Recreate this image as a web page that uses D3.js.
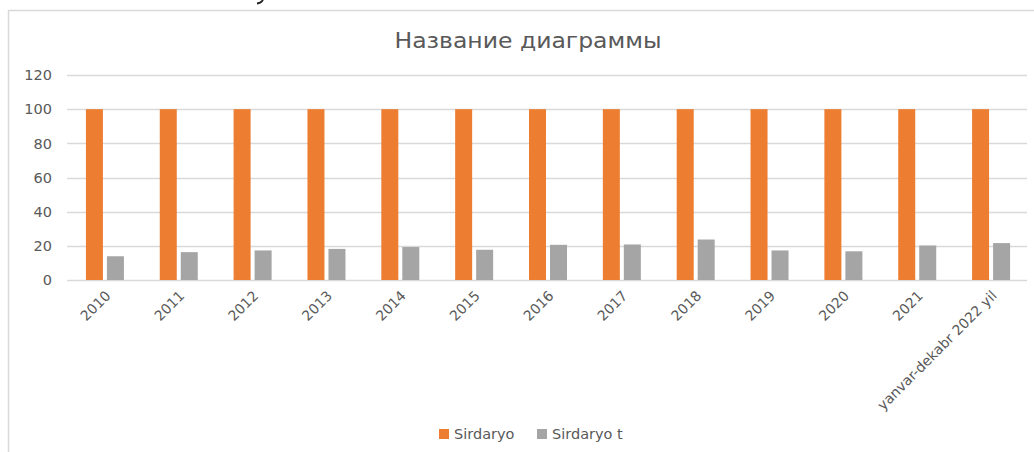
<!DOCTYPE html>
<html>
<head>
<meta charset="utf-8">
<script src="https://cdn.jsdelivr.net/npm/d3@7"></script>
<style>
  body { margin: 0; background: #fff; }
  svg { display: block; font-family: "DejaVu Sans", "Open Sans", sans-serif; }
</style>
</head>
<body>
<svg id="chart" width="1034" height="452"></svg>
<script>
// Data
const categories = ["2010", "2011", "2012", "2013", "2014", "2015", "2016", "2017", "2018", "2019", "2020", "2021", "yanvar-dekabr 2022 yil"];
const sirdaryo  = [100, 100, 100, 100, 100, 100, 100, 100, 100, 100, 100, 100, 100];
const sirdaryoT = [13.9, 16.3, 17.3, 18.2, 19.3, 17.7, 20.6, 20.8, 23.7, 17.3, 16.8, 20.2, 21.6];
const yTicks = [0, 20, 40, 60, 80, 100, 120];
const seriesNames = ["Sirdaryo", "Sirdaryo t"];
const colors = ["#ED7D31", "#A5A5A5"];

const svg = d3.select("#chart");
const textColor = "#595959";
const gridColor = "#D9D9D9";

// frame of the chart area (left and top edges only visible)
svg.append("path")
  .attr("d", "M8.5,452V10.5H1034")
  .attr("fill", "none")
  .attr("stroke", gridColor)
  .attr("stroke-width", 1.5);

// tail of a glyph cut off above the picture
svg.append("path")
  .attr("d", "M257,3.5Q261,3 263,0")
  .attr("fill", "none")
  .attr("stroke", "#222")
  .attr("stroke-width", 1.8);

const plotL = 67, plotR = 1027, plotT = 75, plotB = 280;

const x = d3.scaleBand().domain(categories).range([plotL, plotR]).padding(0);
const y = d3.scaleLinear().domain([0, 120]).range([plotB, plotT]);

// gridlines
svg.append("g")
  .selectAll("line")
  .data(yTicks)
  .join("line")
  .attr("x1", plotL).attr("x2", plotR)
  .attr("y1", d => Math.round(y(d)) + 0.5)
  .attr("y2", d => Math.round(y(d)) + 0.5)
  .attr("stroke", gridColor)
  .attr("stroke-width", 1.3);

// y tick labels
svg.append("g")
  .selectAll("text")
  .data(yTicks)
  .join("text")
  .attr("x", 52)
  .attr("y", d => y(d))
  .attr("dy", "0.36em")
  .attr("text-anchor", "end")
  .attr("font-size", 14.5)
  .attr("fill", textColor)
  .text(d => d);

// bars
const barW = 17, barGap = 4;
const xs = d3.scaleOrdinal().domain([0, 1]).range([-barW - barGap / 2, barGap / 2]);
const series = [sirdaryo, sirdaryoT];

series.forEach((vals, si) => {
  svg.append("g")
    .selectAll("rect")
    .data(vals)
    .join("rect")
    .attr("x", (d, i) => x(categories[i]) + x.bandwidth() / 2 + 1 + xs(si))
    .attr("y", d => y(d))
    .attr("width", barW)
    .attr("height", d => plotB - y(d))
    .attr("fill", colors[si]);
});

// x labels rotated
svg.append("g")
  .selectAll("text")
  .data(categories)
  .join("text")
  .attr("transform", d => `translate(${x(d) + x.bandwidth() / 2 + 4},${plotB + 13}) rotate(-45)`)
  .attr("text-anchor", "end")
  .attr("dy", "0.36em")
  .attr("font-size", 14)
  .attr("fill", textColor)
  .text(d => d);

// title
svg.append("text")
  .attr("x", 528)
  .attr("y", 48)
  .attr("text-anchor", "middle")
  .attr("font-size", 20.5)
  .attr("textLength", 267)
  .attr("lengthAdjust", "spacingAndGlyphs")
  .attr("fill", textColor)
  .text("Название диаграммы");

// legend
const legend = svg.append("g");
const legendX = [439, 537];
seriesNames.forEach((name, i) => {
  legend.append("rect")
    .attr("x", legendX[i]).attr("y", 429)
    .attr("width", 10).attr("height", 10)
    .attr("fill", colors[i]);
  legend.append("text")
    .attr("x", legendX[i] + 15).attr("y", 439)
    .attr("font-size", 14.5)
    .attr("fill", textColor)
    .text(name);
});
</script>
</body>
</html>
